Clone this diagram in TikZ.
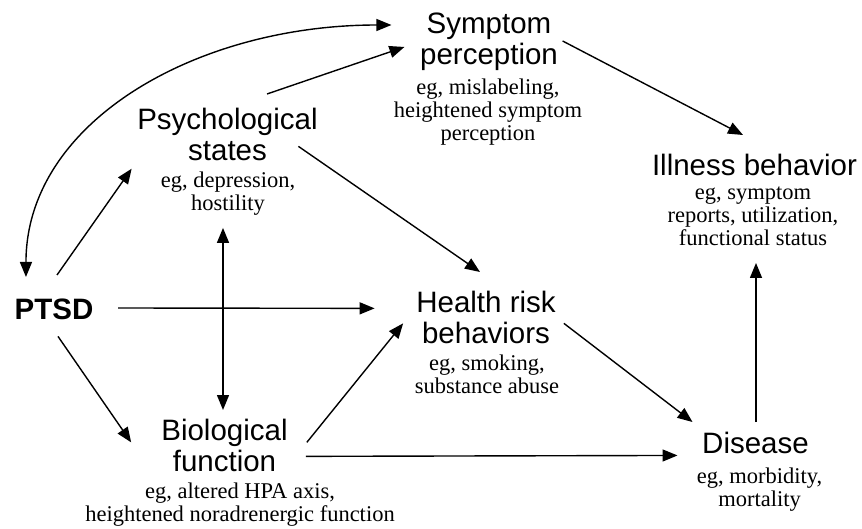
\documentclass[tikz,border=0pt]{standalone}
\usepackage{fontspec}
\setmainfont{Liberation Serif}
\setsansfont{Liberation Sans}
\usepackage{tikz}
\usetikzlibrary{arrows.meta}
\usetikzlibrary{calc, positioning}

\begin{document}
\begin{tikzpicture}[x=1pt,y=-1pt,line width=1.4pt,
                    arr/.style={-{Triangle[length=15pt,width=12pt]}},
                    darr/.style={{Triangle[length=15pt,width=12pt]}-{Triangle[length=15pt,width=12pt]}},
                    title node/.style={anchor=north,inner sep=0pt,align=center,
                      font=\fontsize{29.5}{31.5}\selectfont\sffamily,
                      execute at begin node=\strut,execute at end node=\strut},
                    example node/.style={anchor=north,inner sep=0pt,align=center,
                      font=\fontsize{22.5}{23}\selectfont\rmfamily,
                      execute at begin node=\strut,execute at end node=\strut}]

\useasboundingbox (0,0) rectangle (862,529);

%Inserting the factors
  \node[title node,font=\fontsize{29.5}{31.5}\selectfont\sffamily\bfseries] (PTSD) at (54,297) {PTSD};

  \node[title node] (PsychTitle) at (227.5,107) {Psychological\\states};
  \node[example node] (PsychEx) at (228,171) {eg, depression,\\hostility};

  \node[title node] (SympTitle) at (489,12) {Symptom\\perception};
  \node[example node] (SympEx) at (488,78) {eg, mislabeling,\\heightened symptom\\perception};

  \node[title node] (HealthTitle) at (486,290) {Health risk\\behaviors};
  \node[example node] (HealthEx) at (487,354) {eg, smoking,\\substance abuse};

  \node[title node] (BioTitle) at (224.5,418) {Biological\\function};
  \node[example node] (BioEx) at (240,482) {eg, altered HPA axis,\\heightened noradrenergic function};

  \node[title node] (IllTitle) at (754.5,153) {Illness behavior};
  \node[example node] (IllEx) at (753,186) {eg, symptom\\reports, utilization,\\functional status};

  \node[title node] (DisTitle) at (755.5,431) {Disease};
  \node[example node] (DisEx) at (759.5,467) {eg, morbidity,\\mortality};

%DRAWING the paths
  \draw[darr] ([shift={(12,-20)}]PTSD.north west) .. controls +(0,-155) and +(-195,0) .. ([shift={(-28,13)}]SympTitle.north west);

  \draw[arr] ([shift={(3,-22)}]PTSD.north) -- ([shift={(-5,-2)}]PsychTitle.south west);
  \draw[arr] ([shift={(24,11)}]PTSD.north east) -- ([shift={(-41,-13.5)}]HealthTitle.west);
  \draw[arr] ([shift={(4,6.5)}]PTSD.south) -- ([shift={(-29.5,-7.5)}]BioTitle.west);

  \draw[arr] ([shift={(39.5,-13)}]PsychTitle.north) -- ([shift={(-15,3.5)}]SympTitle.west);
  \draw[arr] ([shift={(-20,7.5)}]PsychTitle.east) -- ([shift={(-6,-18)}]HealthTitle.north);
  \draw[darr] ([shift={(-5,10)}]PsychEx.south) -- ([shift={(-1.5,-8)}]BioTitle.north);

  \draw[arr] ([shift={(18.5,-7.5)}]BioTitle.east) -- ([shift={(-12.5,1.5)}]HealthTitle.west);
  \draw[arr] ([shift={(17.5,6.5)}]BioTitle.east) -- ([shift={(-24,8)}]DisTitle.west);

  \draw[arr] ([shift={(7.5,1.5)}]HealthTitle.east) -- ([shift={(-9,-9)}]DisTitle.north west);
  \draw[arr] ([shift={(4,-2.5)}]SympTitle.east) -- ([shift={(-11.5,-18)}]IllTitle.north);
  \draw[arr] ([shift={(0.5,-9)}]DisTitle.north) -- ([shift={(3,10)}]IllEx.south);

\end{tikzpicture}
\end{document}
